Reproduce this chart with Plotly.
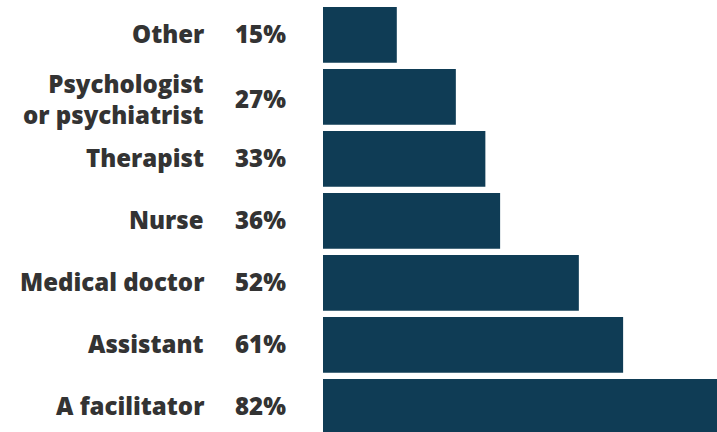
import plotly.graph_objects as go

categories = ["A facilitator", "Assistant", "Medical doctor", "Nurse", "Therapist",
              "Psychologist<br>or psychiatrist", "Other"]
values = [82, 61, 52, 36, 33, 27, 15]
pct_labels = ["82%", "61%", "52%", "36%", "33%", "27%", "15%"]

W, H = 717, 432
bar_color = "#0f3c55"
text_color = "#333333"
font_family = "'Open Sans', Lato, sans-serif"
fsize = 24

ypos = list(range(len(categories)))

fig = go.Figure(go.Bar(
    x=values, y=ypos, orientation="h",
    marker=dict(color=bar_color, line=dict(width=0)),
    hoverinfo="skip",
))

lab_font = dict(family=font_family, size=fsize, color=text_color, weight=800)
annotations = []
for yv, cat, pl in zip(ypos, categories, pct_labels):
    multi = "<br>" in cat
    annotations.append(dict(
        x=205 / W, y=yv, xref="paper", yref="y", text=cat,
        yshift=(-2 if multi else 1),
        showarrow=False, xanchor="right", yanchor="middle", align="right",
        font=lab_font, borderpad=0,
    ))
    annotations.append(dict(
        x=234 / W, y=yv, xref="paper", yref="y", text=pl,
        yshift=(-2 if multi else 1),
        showarrow=False, xanchor="left", yanchor="middle", align="left",
        font=lab_font, borderpad=0,
    ))

fig.update_layout(
    width=W, height=H,
    margin=dict(l=0, r=0, t=0, b=0),
    paper_bgcolor="white", plot_bgcolor="white",
    bargap=0.10,
    showlegend=False,
    xaxis=dict(domain=[323 / W, 1], range=[0, 394 / 4.92], visible=False, fixedrange=True),
    yaxis=dict(range=[-0.405, 6.563], visible=False, fixedrange=True),
    annotations=annotations,
)

fig.write_html(
    "out.html",
    config={"displayModeBar": False},
    post_script="document.body.style.margin='0';document.body.style.overflow='hidden';",
)
